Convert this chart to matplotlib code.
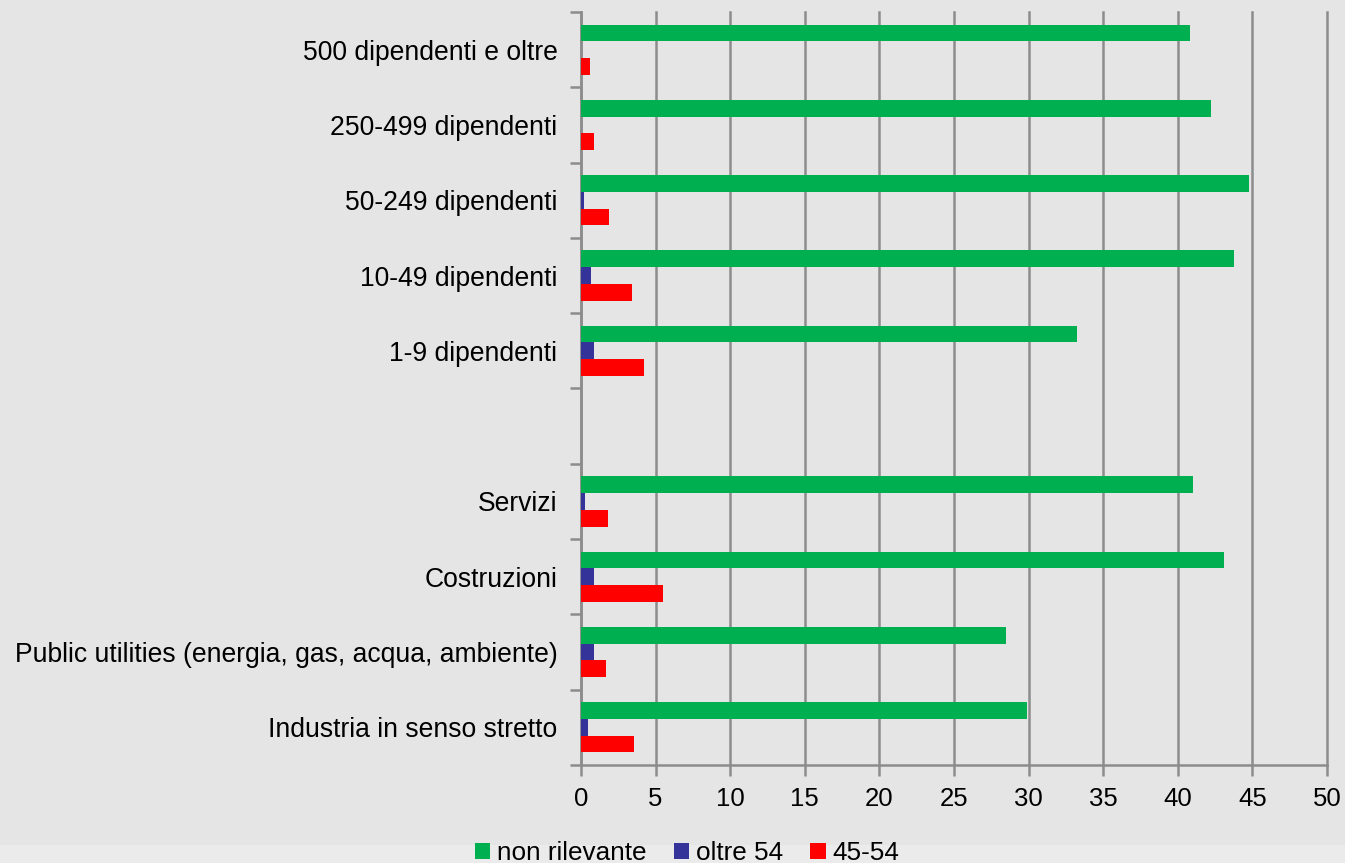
import numpy as np
import matplotlib
matplotlib.use("Agg")
import matplotlib.pyplot as plt
from matplotlib.patches import Rectangle

# categories bottom -> top (blank slot separates the two groups)
categories = [
    "Industria in senso stretto",
    "Public utilities (energia, gas, acqua, ambiente)",
    "Costruzioni",
    "Servizi",
    "",
    "1-9 dipendenti",
    "10-49 dipendenti",
    "50-249 dipendenti",
    "250-499 dipendenti",
    "500 dipendenti e oltre",
]
non_rilevante = [29.9, 28.5, 43.1, 41.05, 0, 33.25, 43.75, 44.8, 42.2, 40.8]
oltre_54 = [0.5, 0.85, 0.9, 0.3, 0, 0.85, 0.65, 0.2, 0, 0]
eta_45_54 = [3.55, 1.65, 5.5, 1.8, 0, 4.2, 3.45, 1.9, 0.9, 0.6]

series_names = ["non rilevante", "oltre 54", "45-54"]
colors = ["#00b050", "#333399", "#ff0000"]

plt.rcParams["font.family"] = ["Liberation Sans", "DejaVu Sans"]

bg = "#e5e5e5"
grid_c = "#8c8c8c"

fig = plt.figure(figsize=(13.45, 8.63), dpi=100, facecolor=bg)
ax = fig.add_axes([581 / 1345, 1 - 765 / 863, (1327 - 581) / 1345, (765 - 12) / 863])
ax.set_facecolor(bg)

y = np.arange(len(categories))
h = 0.222
offsets = [h, 0, -h]
for vals, off, col, name in zip([non_rilevante, oltre_54, eta_45_54], offsets, colors, series_names):
    ax.barh(y + off, vals, height=h, color=col, label=name, zorder=3)

ax.set_xlim(0, 50)
ax.set_ylim(-0.5, len(categories) - 0.5)
ax.set_xticks(np.arange(0, 51, 5))
ax.xaxis.grid(True, color=grid_c, linewidth=1.8, zorder=0)
ax.set_axisbelow(True)
for gl in ax.get_xgridlines():
    gl.set_clip_on(False)

ax.set_yticks(y)
ax.set_yticklabels(categories, fontsize=19.1)
ax.tick_params(axis="y", length=0, pad=17)
ax.set_yticks(np.arange(-0.5, len(categories), 1), minor=True)
ax.tick_params(axis="y", which="minor", length=8, width=1.8, color=grid_c, direction="out")
ax.tick_params(axis="x", length=8, width=1.8, color=grid_c, direction="out",
               labelsize=18.5, pad=8)

for s in ["top", "right"]:
    ax.spines[s].set_visible(False)
for s in ["left", "bottom"]:
    ax.spines[s].set_color(grid_c)
    ax.spines[s].set_linewidth(1.8)

# lighter strip at the very bottom of the picture
fig.patches.append(Rectangle((0, 0), 1, 18 / 863, transform=fig.transFigure,
                             facecolor="#ebebeb", edgecolor="none", zorder=0))

leg = fig.legend(loc="center", bbox_to_anchor=(0.5108, 1 - 853 / 863), ncol=3,
                 frameon=False, fontsize=18.8, handlelength=0.6, handleheight=0.6,
                 handletextpad=0.25, columnspacing=1.05, borderpad=0)

fig.savefig("out.png", dpi=100, facecolor=bg)
